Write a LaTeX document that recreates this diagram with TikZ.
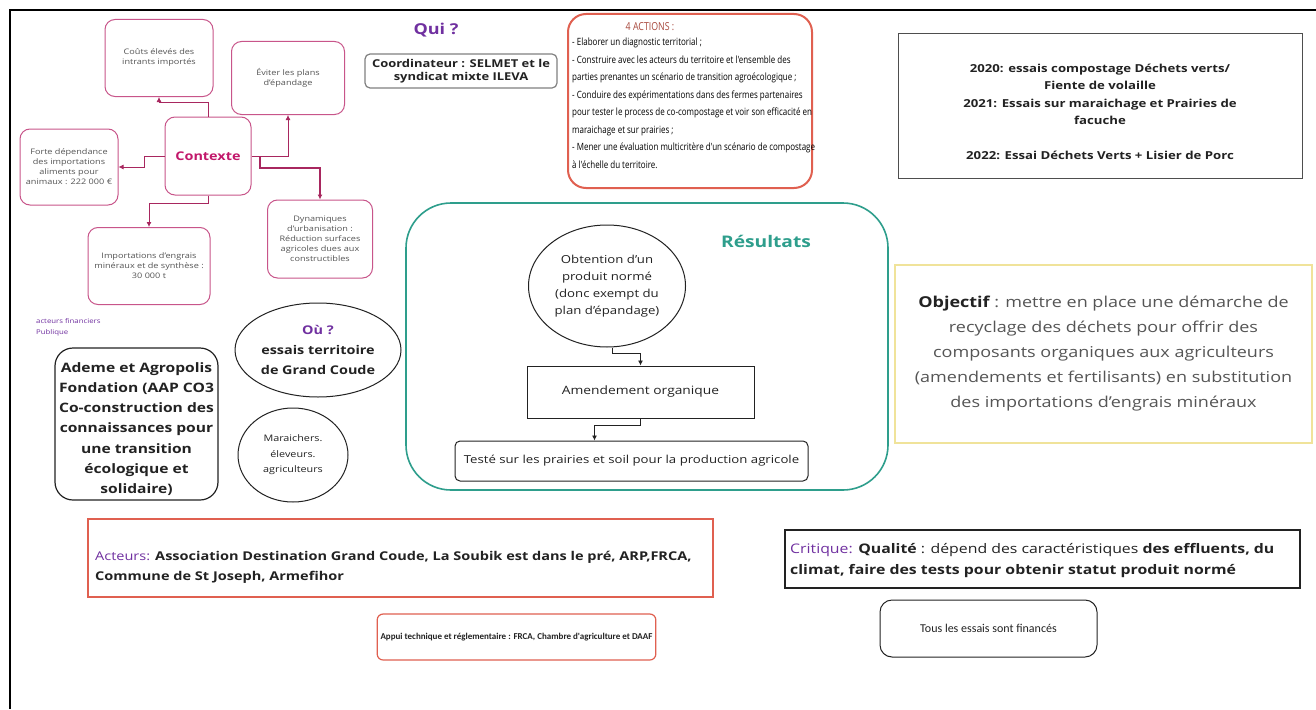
\documentclass[tikz,border=0pt]{standalone}
\usepackage{fontspec}
\setmainfont{Open Sans}[FakeStretch=1.2]
\newfontfamily\narrow[FakeStretch=0.8]{Open Sans}
\newfontfamily\carl{Carlito}
\usetikzlibrary{shapes.geometric,arrows.meta,calc}
\definecolor{ctxborder}{HTML}{C8558A}
\definecolor{ctxtext}{HTML}{C2186B}
\definecolor{ctxarrow}{HTML}{A8275F}
\definecolor{quipurple}{HTML}{7030A0}
\definecolor{resteal}{HTML}{2E9E8C}
\definecolor{redborder}{HTML}{E06050}
\definecolor{yelborder}{HTML}{F0E39A}
\definecolor{graytext}{HTML}{555555}
\definecolor{darktext}{HTML}{222222}
\tikzset{
  ctxbox/.style={draw=ctxborder, line width=1pt, rounded corners=10pt, align=center, inner sep=2pt,
    font=\fontsize{7.6}{10}\selectfont, text=graytext},
  ctxarr/.style={draw=ctxarrow, line width=0.8pt, -{Latex[length=5pt,width=5pt]}},
  resarr/.style={draw=darktext, line width=0.8pt, -{Latex[length=5pt,width=5pt]}},
}
\begin{document}
\begin{tikzpicture}[x=1pt,y=-1pt]
\useasboundingbox (0,0) rectangle (1316,709);
\fill[white] (0,0) rectangle (1316,709);
% frame
\draw[line width=2.6pt] (1316,10) -- (10,10) -- (10,709);

% Contexte mind map
\node[ctxbox, minimum width=86pt, minimum height=78pt] (ctx) at (208,156)
  {\fontsize{12}{14}\selectfont\bfseries\color{ctxtext}Contexte};
\node[ctxbox, minimum width=108pt, minimum height=77pt] (cout) at (159,58)
  {Coûts élevés des\\intrants importés};
\node[ctxbox, minimum width=113pt, minimum height=73pt] (evit) at (288,78)
  {Éviter les plans\\d'épandage};
\node[ctxbox, minimum width=98pt, minimum height=76pt] (forte) at (69,167)
  {Forte dépendance\\des importations\\aliments pour\\animaux : 222 000 €};
\node[ctxbox, minimum width=122pt, minimum height=77pt] (impo) at (149,266)
  {Importations d'engrais\\minéraux et de synthèse :\\30 000 t};
\node[ctxbox, minimum width=105pt, minimum height=78pt] (dyna) at (320,239)
  {Dynamiques\\d'urbanisation :\\Réduction surfaces\\agricoles dues aux\\constructibles};
\draw[ctxarr] (ctx.north) -- ++(0,-14) -| (cout.south);
\draw[ctxarr] (ctx.east) -| (evit.south);
\draw[ctxarr] (ctx.west) -- ++(-20,0) |- (forte.east);
\draw[ctxarr, line width=2pt] ($(ctx.east)+(8,0)$) -- ++(0,12) -| (dyna.north);
\draw[ctxarr] (ctx.south) -- ++(0,8) -| (impo.north);

% Qui
\node[font=\bfseries\fontsize{15}{18}\selectfont, text=quipurple] (qui) at (436,30) {Qui ?};
\node[draw=gray, line width=1.2pt, rounded corners=5pt, minimum width=192pt, minimum height=34pt,
  align=center, font=\bfseries\fontsize{10.8}{13}\selectfont, text=darktext] (coord) at (461,71)
  {Coordinateur : SELMET et le\\syndicat mixte ILEVA};

% 4 actions
\node[draw=redborder, line width=2pt, rounded corners=18pt, minimum width=244pt, minimum height=174pt] (actbox) at (690,101) {};
\node[font=\narrow\fontsize{11}{13}\selectfont, text=redborder!75!black] (acttitle) at (650,27) {4 ACTIONS :};
\node[anchor=north west, align=left, inner sep=0pt, font=\narrow\fontsize{10}{17.5}\selectfont, text=black] (actbody) at (572,38)
  {- Elaborer un diagnostic territorial ;\\
   - Construire avec les acteurs du territoire et l'ensemble des\\
   parties prenantes un scénario de transition agroécologique ;\\
   - Conduire des expérimentations dans des fermes partenaires\\
   pour tester le process de co-compostage et voir son efficacité en\\
   maraichage et sur prairies ;\\
   - Mener une évaluation multicritère d'un scénario de compostage\\
   à l'échelle du territoire.};

% years
\node[draw=darktext!80, line width=1pt, minimum width=404pt, minimum height=144pt] (years) at (1100,106) {};
\node[align=center, inner sep=0pt, font=\bfseries\fontsize{11}{17.5}\selectfont, text=darktext] (yearstext) at (1100,112)
  {2020: essais compostage Déchets verts/\\Fiente de volaille\\2021: Essais sur maraichage et Prairies de\\facuche\\[17.5pt]2022: Essai Déchets Verts + Lisier de Porc};

% Résultats
\node[draw=resteal, line width=1.6pt, rounded corners=45pt, minimum width=482pt, minimum height=287pt] (res) at (647,346.5) {};
\node[font=\bfseries\fontsize{16}{19}\selectfont, text=resteal] (restitle) at (766,241) {Résultats};
\node[draw=darktext, line width=1pt, ellipse, inner sep=0pt, minimum width=157pt, minimum height=122pt, align=center,
  font=\fontsize{11}{17}\selectfont, text=darktext] (obt) at (607,286)
  {Obtention d'un\\produit normé\\(donc exempt du\\plan d'épandage)};
\node[draw=darktext, line width=1pt, minimum width=227pt, minimum height=52pt,
  font=\fontsize{11.5}{14}\selectfont, text=darktext] (amd) at (640.5,392) {Amendement organique};
\node[draw=darktext, line width=1pt, rounded corners=5pt, minimum width=353pt, minimum height=40pt,
  font=\fontsize{11}{14}\selectfont, text=darktext] (test) at (631.5,461) {Testé sur les prairies et soil pour la production agricole};
\draw[resarr] ($(obt.south)+(5,0)$) -- ++(0,6) -| (amd.north);
\draw[resarr] (amd.south) -- ++(0,7) -| ([xshift=-37pt]test.north);

% Objectif
\node[draw=yelborder, line width=1.5pt, minimum width=417pt, minimum height=178pt, align=center,
  font=\fontsize{15}{25}\selectfont, text=graytext] (obj) at (1103.5,354)
  {{\bfseries\color{darktext}Objectif} : mettre en place une démarche de\\recyclage des déchets pour offrir des\\composants organiques aux agriculteurs\\(amendements et fertilisants) en substitution\\des importations d'engrais minéraux};

% financeurs
\node[anchor=north west, align=left, inner sep=0pt, font=\fontsize{6.5}{11}\selectfont, text=quipurple] (fin) at (36,318)
  {acteurs financiers\\Publique};
\node[draw=darktext, line width=1.2pt, rounded corners=18pt, minimum width=163pt, minimum height=152pt] (ademe) at (136.5,424) {};
\node[align=center, inner sep=0pt, font=\bfseries\fontsize{13}{20.3}\selectfont, text=darktext] (ademetext) at (136.5,429)
  {Ademe et Agropolis\\Fondation (AAP CO3\\Co-construction des\\connaissances pour\\une transition\\écologique et\\solidaire)};
\node[draw=darktext, line width=1pt, ellipse, inner sep=0pt, minimum width=166pt, minimum height=94pt, align=center,
  font=\bfseries\fontsize{12}{20}\selectfont, text=darktext] (ou) at (318,350)
  {{\color{quipurple}Où ?}\\essais territoire\\de Grand Coude};
\node[draw=darktext, line width=1pt, ellipse, inner sep=0pt, minimum width=110pt, minimum height=94pt, align=center,
  font=\fontsize{9}{15.5}\selectfont, text=darktext] (mar) at (293,455)
  {Maraichers.\\éleveurs.\\agriculteurs};

% bottom boxes
\node[draw=redborder, line width=2pt, minimum width=625pt, minimum height=78pt] (actbox2) at (400.5,558) {};
\node[anchor=west, align=left, inner sep=0pt, font=\bfseries\fontsize{12.1}{20}\selectfont, text=darktext] (acteurs) at (95,567)
  {{\color{quipurple}\mdseries Acteurs:} Association Destination Grand Coude, La Soubik est dans le pré, ARP,FRCA,\\Commune de St Joseph, Armefihor};
\node[draw=darktext, line width=1.5pt, minimum width=515pt, minimum height=58pt] (crit) at (1042.5,559) {};
\node[anchor=west, align=left, inner sep=0pt, font=\fontsize{13.2}{21}\selectfont, text=darktext] (crittext) at (790,561)
  {{\color{quipurple}Critique:} \textbf{Qualité} : dépend des caractéristiques \textbf{des effluents, du}\\\textbf{climat, faire des tests pour obtenir statut produit normé}};
\node[draw=redborder, line width=1.2pt, rounded corners=6pt, minimum width=273pt, minimum height=46pt,
  font=\carl\bfseries\fontsize{9}{12}\selectfont, text=darktext] (appui) at (516.5,637)
  {Appui technique et réglementaire : FRCA, Chambre d'agriculture et DAAF};
\node[draw=darktext, line width=1pt, rounded corners=12pt, minimum width=217pt, minimum height=57pt,
  font=\carl\fontsize{12}{14}\selectfont, text=darktext] (tous) at (988.5,628.5)
  {Tous les essais sont financés};
\end{tikzpicture}
\end{document}
